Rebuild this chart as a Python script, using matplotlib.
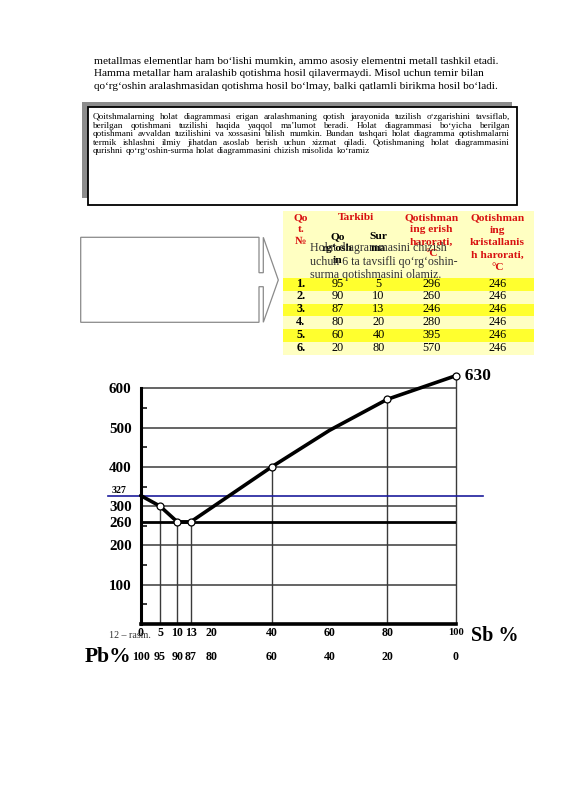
import numpy as np
import matplotlib
matplotlib.use('Agg')
import matplotlib.pyplot as plt
from matplotlib.patches import Rectangle, Polygon

W, H = 566, 800
SERIF = 'Liberation Serif'

# page text
intro_lines = [
    "metallmas elementlar ham bo\u2018lishi mumkin, ammo asosiy elementni metall tashkil etadi.",
    "Hamma metallar ham aralashib qotishma hosil qilavermaydi. Misol uchun temir bilan",
    "qo\u2018rg\u2018oshin aralashmasidan qotishma hosil bo\u2018lmay, balki qatlamli birikma hosil bo\u2018ladi.",
]
box_lines = [
    "Qoitshmalarning holat diagrammasi erigan aralashmaning qotish jarayonida tuzilish o\u2018zgarishini tavsiflab,",
    "berilgan qotishmani tuzilishi haqida yaqqol ma\u2019lumot beradi. Holat diagrammasi bo\u2018yicha berilgan",
    "qotishmani avvaldan tuzilishini va xossasini bilish mumkin. Bundan tashqari holat diagramma qotishmalarni",
    "termik ishlashni ilmiy jihatdan asoslab berish uchun xizmat qiladi. Qotishmaning holat diagrammasini",
    "qurishni qo\u2018rg\u2018oshin-surma holat diagrammasini chizish misolida ko\u2018ramiz",
]
overlay_lines = [
    "Holat diagrammasini chizish",
    "uchun 6 ta tavsifli qo\u2018rg\u2018oshin-",
    "surma qotishmasini olamiz.",
]

# table data
row_no = ["1.", "2.", "3.", "4.", "5.", "6."]
lead_pct = [95, 90, 87, 80, 60, 20]
sb_pct = [5, 10, 13, 20, 40, 80]
melt_t = [296, 260, 246, 280, 395, 570]
cryst_t = [246, 246, 246, 246, 246, 246]

# diagram data
liq_x = [0, 5, 10, 13, 40, 60, 80, 100]
liq_y = [327, 300, 260, 260, 400, 493, 572, 632]
point_x = [5, 10, 13, 40, 80, 100]
point_y = [300, 260, 260, 400, 572, 632]
eutectic_t = 260
pb_melt = 327
grid_t = [100, 200, 300, 400, 500, 600]
ytick_vals = [100, 200, 260, 300, 400, 500, 600]
minor_t = [50, 150, 250, 350, 450, 550]
sb_ticks = [0, 5, 10, 13, 20, 40, 60, 80, 100]
pb_ticks = [100 - v for v in sb_ticks]

# the drawing's x axis is not uniform: data value -> pixel on the page
knot_data = [0, 5, 10, 13, 40, 80, 100]
knot_px = [140.7, 160, 177.3, 190.7, 271.7, 387.3, 455.7]


def fx(x):
    return x / W


def fy(y):
    return 1 - y / H


fig = plt.figure(figsize=(W / 100, H / 100), dpi=100)
fig.patch.set_facecolor('white')

for i, line in enumerate(intro_lines):
    fig.text(fx(94), fy(61.7 + i * 12.3), line, fontsize=8.1, family=SERIF,
             va='center', ha='left')

# shadowed text box
fig.patches.append(Rectangle((fx(82), fy(198)), fx(512 - 82), (198 - 101.5) / H,
                             transform=fig.transFigure, facecolor='#8c8c8c',
                             edgecolor='none'))
fig.patches.append(Rectangle((fx(87.5), fy(204.5)), fx(517 - 87.5), (204.5 - 107) / H,
                             transform=fig.transFigure, facecolor='white',
                             edgecolor='black', lw=1.3))

renderer = fig.canvas.get_renderer()
bx0, bx1 = 92.7, 510
for i, line in enumerate(box_lines):
    y = fy(117.3 + i * 8.45)
    words = line.split(' ')
    ts = [fig.text(0, y, w, fontsize=6.6, family=SERIF, va='center') for w in words]
    widths = [t.get_window_extent(renderer).width for t in ts]
    if i == len(box_lines) - 1:
        gap = 2.3
    else:
        gap = (bx1 - bx0 - sum(widths)) / (len(ts) - 1)
    x = bx0
    for t, w in zip(ts, widths):
        t.set_x(fx(x))
        x += w + gap

# notched arrow outline
arrow_px = [(80.7, 237.3), (259, 237.3), (259, 272.7), (263.3, 272.7), (263.3, 237.3),
            (278.3, 280), (263.3, 322.3), (263.3, 286.7), (259, 286.7), (259, 322.3),
            (80.7, 322.3)]
fig.patches.append(Polygon([(fx(a), fy(b)) for a, b in arrow_px], closed=True,
                           transform=fig.transFigure, fill=False,
                           edgecolor='#8a8a8a', lw=0.9))

# table
tx0, tx1 = 283, 534
fig.patches.append(Rectangle((fx(tx0), fy(355)), fx(tx1 - tx0), (355 - 211) / H,
                             transform=fig.transFigure, facecolor='#ffffc2',
                             edgecolor='none'))
row_top = 277.7
row_h = 12.9
for i in range(len(row_no)):
    if i % 2 == 0:
        fig.patches.append(Rectangle((fx(tx0), fy(row_top + (i + 1) * row_h)),
                                     fx(tx1 - tx0), row_h / H,
                                     transform=fig.transFigure,
                                     facecolor='#ffff2e', edgecolor='none'))

red = '#d81010'
hsize = 8.2
col_x = [300.7, 337.5, 378.5, 431.5, 497.3]


def stack(x, y0, lines, color, size, step=11.9, weight='bold'):
    for k, s in enumerate(lines):
        fig.text(fx(x), fy(y0 + k * step), s, color=color, fontsize=size,
                 family=SERIF, weight=weight, ha='center', va='center')


stack(col_x[0], 218, ["Qo", "t.", "\u2116"], red, hsize)
stack(356, 218, ["Tarkibi"], red, hsize)
stack(col_x[3], 218, ["Qotishman", "ing erish", "harorati,", "\u00b0C"], red, hsize)
stack(col_x[4], 218, ["Qotishman", "ing", "kristallanis", "h harorati,", "\u00b0C"], red, hsize,
      step=12.4)
stack(col_x[1], 236.7, ["Qo", "rg\u2018osh", "in"], 'black', hsize, step=11.7)
stack(col_x[2], 236.7, ["Sur", "ma"], 'black', hsize, step=11.7)

for k, s in enumerate(overlay_lines):
    fig.text(fx(310), fy(248 + k * 13.5), s, color='#333333', fontsize=8.6,
             family=SERIF, ha='left', va='center')

for i in range(len(row_no)):
    yc = fy(row_top + (i + 0.45) * row_h)
    cells = [row_no[i], str(lead_pct[i]), str(sb_pct[i]), str(melt_t[i]), str(cryst_t[i])]
    for j, c in enumerate(cells):
        fig.text(fx(col_x[j]), yc, c, fontsize=8.8, family=SERIF,
                 weight='bold' if j == 0 else 'normal', ha='center', va='center')

# phase diagram
ax_bottom = 624
ax_top = ax_bottom - 650 * (624 - 388.3) / 600
ax = fig.add_axes([fx(knot_px[0]), fy(ax_bottom), fx(knot_px[-1] - knot_px[0]),
                   (ax_bottom - ax_top) / H])
ax.patch.set_alpha(0)


def fwd(v):
    return np.interp(v, knot_data, knot_px)


def inv(v):
    return np.interp(v, knot_px, knot_data)


ax.set_xscale('function', functions=(fwd, inv))
ax.set_xlim(0, 100)
ax.set_ylim(0, 650)

ax.hlines(grid_t, 0, 100, color='#3a3a3a', lw=1.1, zorder=1)
ax.hlines(eutectic_t, 0, 100, color='black', lw=2.0, zorder=2)
ax.vlines(point_x, 0, point_y, color='#3a3a3a', lw=1.0, zorder=1, clip_on=False)
ax.axhline(pb_melt, xmin=-0.104, xmax=1.087, color='#1c1c9c', lw=1.2,
           clip_on=False, zorder=3)
ax.plot(liq_x, liq_y, color='black', lw=2.6, zorder=4, clip_on=False,
        solid_capstyle='round', solid_joinstyle='round')
ax.plot(point_x, point_y, 'o', mfc='white', mec='black', ms=5, mew=0.9,
        zorder=5, clip_on=False)

for s in ['top', 'right']:
    ax.spines[s].set_visible(False)
ax.spines['left'].set_bounds(0, 600)
ax.spines['left'].set_linewidth(2.2)
ax.spines['bottom'].set_linewidth(2.6)
ax.spines['left'].set_zorder(6)
ax.spines['bottom'].set_zorder(6)

ax.set_yticks(ytick_vals)
ax.set_yticklabels([str(v) for v in ytick_vals], fontsize=10.8, family=SERIF,
                   weight='bold')
ax.set_yticks(minor_t, minor=True)
ax.tick_params(axis='y', which='major', length=0, pad=6.5)
ax.tick_params(axis='y', which='minor', direction='in', length=4, width=1.1)
ax.set_xticks([])
ax.xaxis.set_minor_locator(matplotlib.ticker.NullLocator())

ax.text(-0.091, pb_melt + 2, str(pb_melt), transform=ax.get_yaxis_transform(),
        fontsize=7.2, family=SERIF, weight='bold', ha='left', va='bottom')
ax.text(100, 632, '  630', fontsize=12.5, family=SERIF, weight='bold',
        ha='left', va='center', clip_on=False)

xt = ax.get_xaxis_transform()
row1 = -(632.7 - ax_bottom) / (ax_bottom - ax_top)
row2 = -(657.5 - ax_bottom) / (ax_bottom - ax_top)
for v, p in zip(sb_ticks, pb_ticks):
    ax.text(v, row1, str(v), transform=xt, fontsize=7.6 if v == 100 else 8.6,
            family=SERIF, weight='bold', ha='center', va='center')
    ax.text(v, row2, str(p), transform=xt, fontsize=8.6, family=SERIF,
            weight='bold', ha='center', va='center')

fig.text(fx(471), fy(636), 'Sb %', fontsize=14.5, family=SERIF, weight='bold',
         ha='left', va='center')
fig.text(fx(85), fy(657), 'Pb%', fontsize=15.5, family=SERIF, weight='bold',
         ha='left', va='center')
fig.text(fx(109), fy(636), '12 \u2013 rasm.', fontsize=7.2, family=SERIF,
         color='#333333', ha='left', va='center')

fig.savefig('out.png', dpi=100)
